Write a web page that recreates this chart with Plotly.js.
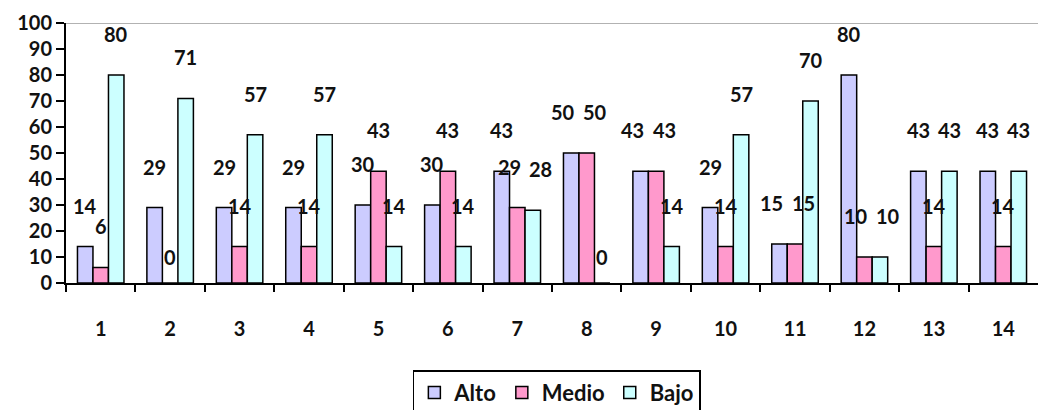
<!DOCTYPE html>
<html>
<head>
<meta charset="utf-8">
<script src="https://cdn.plot.ly/plotly-3.0.1.min.js"></script>
<style>html,body{margin:0;padding:0;background:#fff;}#chart{width:1038px;height:410px;}</style>
</head>
<body>
<div id="chart"></div>
<script>
const categories = ["1","2","3","4","5","6","7","8","9","10","11","12","13","14"];
const seriesNames = ["Alto", "Medio", "Bajo"];
const alto  = [14, 29, 29, 29, 30, 30, 43, 50, 43, 29, 15, 80, 43, 43];
const medio = [6, 0, 14, 14, 43, 43, 29, 50, 43, 14, 15, 10, 14, 14];
const bajo  = [80, 71, 57, 57, 14, 14, 28, 0, 14, 57, 70, 10, 43, 43];
const yTicks = [0,10,20,30,40,50,60,70,80,90,100];

const colors = ["#CCCCFF", "#FF99CC", "#CCFFFF"];
const seriesValues = [alto, medio, bajo];
const fontFam = "Lato, 'DejaVu Sans', sans-serif";
const fontSize = 20;
const bargap = 0.33;
const barW = (1 - bargap) / 3;

const traces = seriesValues.map((vals, i) => ({
  type: "bar",
  name: seriesNames[i],
  x: categories.map((c, k) => k),
  y: vals,
  marker: { color: colors[i], line: { color: "#000", width: 1.5 } },
  hoverinfo: "skip"
}));

// label placement: above each bar; spread apart labels of neighbouring bars with near-equal values
const annotations = [];
seriesValues.forEach((vals, i) => {
  vals.forEach((v, k) => {
    let xs = 0, ys = v === 0 ? 26 : 41;
    const left = i > 0 ? seriesValues[i - 1][k] : null;
    const right = i < 2 ? seriesValues[i + 1][k] : null;
    if (right !== null && right !== 0 && v !== 0 && Math.abs(right - v) <= 3) xs -= 8;
    if (left !== null && left !== 0 && v !== 0 && Math.abs(left - v) <= 3) xs += 8;
    annotations.push({
      xref: "x", yref: "y",
      x: k + (i - 1) * barW,
      y: v,
      text: String(v),
      showarrow: false,
      xanchor: "center", yanchor: "middle",
      xshift: xs, yshift: ys,
      font: { family: fontFam, size: fontSize, color: "#111", weight: "bold" }
    });
  });
});

const layout = {
  width: 1038, height: 410,
  margin: { l: 66, r: 0, t: 23, b: 127, autoexpand: false },
  paper_bgcolor: "#fff", plot_bgcolor: "#fff",
  barmode: "group",
  bargap: bargap, bargroupgap: 0,
  showlegend: true,
  font: { family: fontFam, size: fontSize, color: "#111", weight: "bold" },
  xaxis: {
    type: "linear",
    range: [-0.5, categories.length - 0.5],
    tickmode: "array",
    tickvals: categories.map((c, k) => k),
    ticktext: categories,
    showgrid: false, zeroline: false,
    showline: true, linecolor: "#000", linewidth: 2,
    ticks: "",
    ticklabelstandoff: 27,
    tickfont: { family: fontFam, size: fontSize, color: "#111", weight: "bold" },
    fixedrange: true
  },
  xaxis2: {
    overlaying: "x", type: "linear",
    range: [-0.5, categories.length - 0.5],
    tickmode: "array",
    tickvals: categories.map((c, k) => k - 0.5),
    showticklabels: false,
    ticks: "outside", ticklen: 8, tickwidth: 2, tickcolor: "#000",
    showgrid: false, zeroline: false, showline: false,
    anchor: "y", side: "bottom"
  },
  yaxis: {
    range: [0, 100],
    tickmode: "array", tickvals: yTicks, ticktext: yTicks.map(String),
    showgrid: false, zeroline: false,
    showline: true, linecolor: "#000", linewidth: 2,
    ticks: "outside", ticklen: 8, tickwidth: 2, tickcolor: "#000",
    tickfont: { family: fontFam, size: fontSize, color: "#111", weight: "bold" },
    fixedrange: true
  },
  shapes: [{
    type: "line", xref: "paper", yref: "y",
    x0: 0, x1: 1, y0: 100, y1: 100,
    line: { color: "#999", width: 1.5 }
  }],
  legend: {
    orientation: "h",
    x: 0.505, xanchor: "center",
    y: -0.335, yanchor: "top",
    bordercolor: "#000", borderwidth: 1.5,
    itemwidth: 30,
    font: { family: fontFam, size: 22, color: "#111", weight: "bold" }
  },
  annotations: annotations
};

traces.push({ type: "scatter", x: [0], y: [0], xaxis: "x2", yaxis: "y", mode: "markers", marker: { opacity: 0 }, showlegend: false, hoverinfo: "skip" });

Plotly.newPlot("chart", traces, layout, { staticPlot: true, displayModeBar: false });
</script>
</body>
</html>
